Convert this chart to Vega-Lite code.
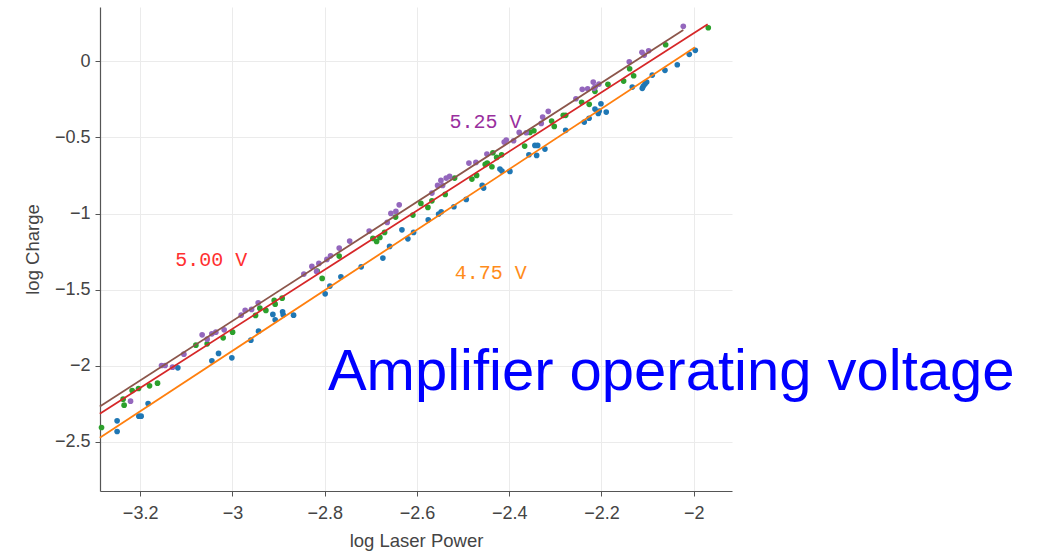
{
  "$schema": "https://vega.github.io/schema/vega-lite/v6.json",
  "width": 632,
  "height": 484,
  "autosize": {"type": "none"},
  "padding": {"left": 100, "top": 7, "right": 306, "bottom": 63},
  "background": "white",
  "config": {
    "view": {"stroke": null},
    "axis": {
      "labelFont": "Liberation Sans",
      "titleFont": "Liberation Sans",
      "labelFontSize": 18,
      "titleFontSize": 18.5,
      "titleFontWeight": "normal",
      "labelColor": "#444444",
      "titleColor": "#444444",
      "domainColor": "#555555",
      "domainWidth": 1.2,
      "tickColor": "#555555",
      "tickSize": 5,
      "gridColor": "#ebebeb",
      "gridWidth": 1
    }
  },
  "datasets": {
    "pts": [
      {"s":"4.75","x":-3.2499,"y":-2.3614},{"s":"4.75","x":-3.2499,"y":-2.4310},{"s":"4.75","x":-3.2028,"y":-2.3305},{"s":"4.75","x":-3.1978,"y":-2.3305},{"s":"4.75","x":-3.1827,"y":-2.2470},{"s":"4.75","x":-3.1183,"y":-2.0131},{"s":"4.75","x":-3.0445,"y":-1.9671},{"s":"4.75","x":-3.0300,"y":-1.9185},{"s":"4.75","x":-3.0012,"y":-1.9475},{"s":"4.75","x":-2.9600,"y":-1.8311},{"s":"4.75","x":-2.9433,"y":-1.7720},{"s":"4.75","x":-2.9123,"y":-1.6623},{"s":"4.75","x":-2.9073,"y":-1.6978},{"s":"4.75","x":-2.8912,"y":-1.6452},{"s":"4.75","x":-2.8899,"y":-1.6650},{"s":"4.75","x":-2.8674,"y":-1.6669},{"s":"4.75","x":-2.7989,"y":-1.5269},{"s":"4.75","x":-2.7887,"y":-1.4763},{"s":"4.75","x":-2.7648,"y":-1.4152},{"s":"4.75","x":-2.7208,"y":-1.3495},{"s":"4.75","x":-2.6738,"y":-1.2924},{"s":"4.75","x":-2.6592,"y":-1.2155},{"s":"4.75","x":-2.6325,"y":-1.1064},{"s":"4.75","x":-2.6196,"y":-1.1656},{"s":"4.75","x":-2.6072,"y":-1.1235},{"s":"4.75","x":-2.5755,"y":-1.0407},{"s":"4.75","x":-2.5530,"y":-1.0033},{"s":"4.75","x":-2.5473,"y":-0.9882},{"s":"4.75","x":-2.5198,"y":-0.9553},{"s":"4.75","x":-2.4931,"y":-0.9067},{"s":"4.75","x":-2.4584,"y":-0.8147},{"s":"4.75","x":-2.4554,"y":-0.8325},{"s":"4.75","x":-2.4201,"y":-0.7076},{"s":"4.75","x":-2.4157,"y":-0.7208},{"s":"4.75","x":-2.3984,"y":-0.7227},{"s":"4.75","x":-2.3572,"y":-0.6137},{"s":"4.75","x":-2.3442,"y":-0.5519},{"s":"4.75","x":-2.3405,"y":-0.6176},{"s":"4.75","x":-2.3383,"y":-0.5519},{"s":"4.75","x":-2.3225,"y":-0.5762},{"s":"4.75","x":-2.2776,"y":-0.4533},{"s":"4.75","x":-2.2373,"y":-0.3988},{"s":"4.75","x":-2.2268,"y":-0.3738},{"s":"4.75","x":-2.2141,"y":-0.3134},{"s":"4.75","x":-2.2069,"y":-0.3417},{"s":"4.75","x":-2.2048,"y":-0.3265},{"s":"4.75","x":-2.2011,"y":-0.2786},{"s":"4.75","x":-2.1896,"y":-0.3331},{"s":"4.75","x":-2.1332,"y":-0.1689},{"s":"4.75","x":-2.1115,"y":-0.1774},{"s":"4.75","x":-2.1094,"y":-0.1643},{"s":"4.75","x":-2.1057,"y":-0.1491},{"s":"4.75","x":-2.1020,"y":-0.1360},{"s":"4.75","x":-2.0898,"y":-0.0900},{"s":"4.75","x":-2.0623,"y":-0.0591},{"s":"4.75","x":-2.0356,"y":-0.0223},{"s":"4.75","x":-2.0096,"y":0.0460},{"s":"4.75","x":-1.9966,"y":0.0723},
      {"s":"5.00","x":-3.2837,"y":-2.4047},{"s":"5.00","x":-3.2369,"y":-2.2188},{"s":"5.00","x":-3.2347,"y":-2.2582},{"s":"5.00","x":-3.2173,"y":-2.1616},{"s":"5.00","x":-3.2035,"y":-2.1485},{"s":"5.00","x":-3.1796,"y":-2.1314},{"s":"5.00","x":-3.1623,"y":-2.1137},{"s":"5.00","x":-3.0792,"y":-1.8640},{"s":"5.00","x":-3.0547,"y":-1.8555},{"s":"5.00","x":-3.0200,"y":-1.8160},{"s":"5.00","x":-2.9996,"y":-1.7786},{"s":"5.00","x":-2.9498,"y":-1.6689},{"s":"5.00","x":-2.9405,"y":-1.6209},{"s":"5.00","x":-2.9274,"y":-1.6360},{"s":"5.00","x":-2.9094,"y":-1.5703},{"s":"5.00","x":-2.9073,"y":-1.5946},{"s":"5.00","x":-2.8921,"y":-1.5552},{"s":"5.00","x":-2.8162,"y":-1.3778},{"s":"5.00","x":-2.8054,"y":-1.4258},{"s":"5.00","x":-2.7685,"y":-1.2792},{"s":"5.00","x":-2.6954,"y":-1.1629},{"s":"5.00","x":-2.6874,"y":-1.1827},{"s":"5.00","x":-2.6803,"y":-1.1564},{"s":"5.00","x":-2.6701,"y":-1.1235},{"s":"5.00","x":-2.6462,"y":-1.0230},{"s":"5.00","x":-2.6087,"y":-1.0099},{"s":"5.00","x":-2.5914,"y":-0.9330},{"s":"5.00","x":-2.5762,"y":-0.9593},{"s":"5.00","x":-2.5675,"y":-0.9159},{"s":"5.00","x":-2.5387,"y":-0.8739},{"s":"5.00","x":-2.5183,"y":-0.7668},{"s":"5.00","x":-2.4808,"y":-0.7733},{"s":"5.00","x":-2.4706,"y":-0.7490},{"s":"5.00","x":-2.4519,"y":-0.6767},{"s":"5.00","x":-2.4476,"y":-0.6682},{"s":"5.00","x":-2.4374,"y":-0.6925},{"s":"5.00","x":-2.4353,"y":-0.6005},{"s":"5.00","x":-2.4272,"y":-0.6307},{"s":"5.00","x":-2.4164,"y":-0.6137},{"s":"5.00","x":-2.3665,"y":-0.5565},{"s":"5.00","x":-2.3550,"y":-0.4665},{"s":"5.00","x":-2.3464,"y":-0.4560},{"s":"5.00","x":-2.3080,"y":-0.3922},{"s":"5.00","x":-2.3023,"y":-0.4271},{"s":"5.00","x":-2.2828,"y":-0.3548},{"s":"5.00","x":-2.2776,"y":-0.3548},{"s":"5.00","x":-2.2429,"y":-0.2694},{"s":"5.00","x":-2.2265,"y":-0.2825},{"s":"5.00","x":-2.2141,"y":-0.1971},{"s":"5.00","x":-2.1859,"y":-0.1511},{"s":"5.00","x":-2.1519,"y":-0.1294},{"s":"5.00","x":-2.1389,"y":-0.0486},{"s":"5.00","x":-2.1302,"y":-0.0946},{"s":"5.00","x":-2.0608,"y":0.1091},{"s":"5.00","x":-1.9684,"y":0.2208},
      {"s":"5.25","x":-3.2208,"y":-2.2319},{"s":"5.25","x":-3.1536,"y":-1.9974},{"s":"5.25","x":-3.1458,"y":-1.9974},{"s":"5.25","x":-3.1297,"y":-2.0085},{"s":"5.25","x":-3.1052,"y":-1.9231},{"s":"5.25","x":-3.0656,"y":-1.7963},{"s":"5.25","x":-3.0547,"y":-1.8246},{"s":"5.25","x":-3.0445,"y":-1.7897},{"s":"5.25","x":-3.0359,"y":-1.7786},{"s":"5.25","x":-3.0179,"y":-1.7635},{"s":"5.25","x":-2.9810,"y":-1.6669},{"s":"5.25","x":-2.9723,"y":-1.6360},{"s":"5.25","x":-2.9584,"y":-1.6294},{"s":"5.25","x":-2.9441,"y":-1.5861},{"s":"5.25","x":-2.8451,"y":-1.3975},{"s":"5.25","x":-2.8277,"y":-1.3469},{"s":"5.25","x":-2.8175,"y":-1.3798},{"s":"5.25","x":-2.8125,"y":-1.3272},{"s":"5.25","x":-2.7952,"y":-1.3009},{"s":"5.25","x":-2.7872,"y":-1.2773},{"s":"5.25","x":-2.7685,"y":-1.2267},{"s":"5.25","x":-2.7458,"y":-1.1807},{"s":"5.25","x":-2.7035,"y":-1.1150},{"s":"5.25","x":-2.6644,"y":-1.0578},{"s":"5.25","x":-2.6564,"y":-0.9987},{"s":"5.25","x":-2.6456,"y":-0.9855},{"s":"5.25","x":-2.6384,"y":-0.9422},{"s":"5.25","x":-2.5675,"y":-0.8653},{"s":"5.25","x":-2.5552,"y":-0.8147},{"s":"5.25","x":-2.5480,"y":-0.7819},{"s":"5.25","x":-2.5443,"y":-0.8147},{"s":"5.25","x":-2.5365,"y":-0.7668},{"s":"5.25","x":-2.5291,"y":-0.7556},{"s":"5.25","x":-2.4873,"y":-0.6682},{"s":"5.25","x":-2.4721,"y":-0.6636},{"s":"5.25","x":-2.4483,"y":-0.6091},{"s":"5.25","x":-2.4108,"y":-0.5302},{"s":"5.25","x":-2.4064,"y":-0.5171},{"s":"5.25","x":-2.3904,"y":-0.5217},{"s":"5.25","x":-2.3782,"y":-0.4665},{"s":"5.25","x":-2.3630,"y":-0.4691},{"s":"5.25","x":-2.3305,"y":-0.4074},{"s":"5.25","x":-2.3275,"y":-0.3660},{"s":"5.25","x":-2.3153,"y":-0.3285},{"s":"5.25","x":-2.2553,"y":-0.2457},{"s":"5.25","x":-2.2416,"y":-0.1840},{"s":"5.25","x":-2.2299,"y":-0.1800},{"s":"5.25","x":-2.2178,"y":-0.1360},{"s":"5.25","x":-2.2163,"y":-0.1774},{"s":"5.25","x":-2.2135,"y":-0.1669},{"s":"5.25","x":-2.2054,"y":-0.1491},{"s":"5.25","x":-2.1397,"y":-0.0026},{"s":"5.25","x":-2.1122,"y":0.0591},{"s":"5.25","x":-2.1072,"y":0.0414},{"s":"5.25","x":-2.0977,"y":0.0696},{"s":"5.25","x":-2.0226,"y":0.2300}
    ],
    "fits": [
      {"s":"4.75","x":-3.2874,"y":-2.473},{"s":"4.75","x":-1.9973,"y":0.092},
      {"s":"5.00","x":-3.2874,"y":-2.315},{"s":"5.00","x":-1.9697,"y":0.243},
      {"s":"5.25","x":-3.2874,"y":-2.267},{"s":"5.25","x":-2.0226,"y":0.206}
    ],
    "notes": [
      {"s":"5.25","t":"5.25 V","x":-2.4515,"y":-0.440},
      {"s":"5.00","t":"5.00 V","x":-3.0461,"y":-1.343},
      {"s":"4.75","t":"4.75 V","x":-2.4400,"y":-1.4323}
    ],
    "heading": [
      {"t":"Amplifier operating voltage","x":-2.793,"y":-2.160}
    ]
  },
  "encoding": {
    "x": {
      "field": "x", "type": "quantitative",
      "scale": {"domain": [-3.287, -1.917], "nice": false, "zero": false},
      "axis": {"title": "log Laser Power", "values": [-3.2,-3,-2.8,-2.6,-2.4,-2.2,-2], "format": "~g", "labelPadding": 8, "titlePadding": 9}
    },
    "y": {
      "field": "y", "type": "quantitative",
      "scale": {"domain": [-2.822, 0.357], "nice": false, "zero": false},
      "axis": {"title": "log Charge", "values": [-2.5,-2,-1.5,-1,-0.5,0], "format": "~g", "labelPadding": 5, "titlePadding": 12}
    }
  },
  "layer": [
    {
      "data": {"name": "pts"},
      "mark": {"type": "circle", "size": 32, "opacity": 1},
      "encoding": {
        "color": {"field": "s", "type": "nominal", "legend": null,
          "scale": {"domain": ["4.75","5.00","5.25"], "range": ["#1f77b4","#2ca02c","#9467bd"]}}
      }
    },
    {
      "data": {"name": "fits"},
      "mark": {"type": "line", "strokeWidth": 1.8},
      "encoding": {
        "detail": {"field": "s"},
        "stroke": {"field": "s", "type": "nominal", "legend": null,
          "scale": {"domain": ["4.75","5.00","5.25"], "range": ["#ff7f0e","#d62728","#8c564b"]}}
      }
    },
    {
      "data": {"name": "notes"},
      "mark": {"type": "text", "font": "Liberation Mono", "fontSize": 20, "align": "center", "baseline": "alphabetic"},
      "encoding": {
        "text": {"field": "t"},
        "fill": {"field": "s", "type": "nominal", "legend": null,
          "scale": {"domain": ["4.75","5.00","5.25"], "range": ["#ff8c1a","#ff3030","#992f9e"]}}
      }
    },
    {
      "data": {"name": "heading"},
      "mark": {"type": "text", "font": "Liberation Sans", "fontSize": 58, "align": "left", "baseline": "alphabetic", "color": "#0000ff"},
      "encoding": {"text": {"field": "t"}}
    }
  ],
  "resolve": {"scale": {"color": "independent", "stroke": "independent", "fill": "independent"}}
}
